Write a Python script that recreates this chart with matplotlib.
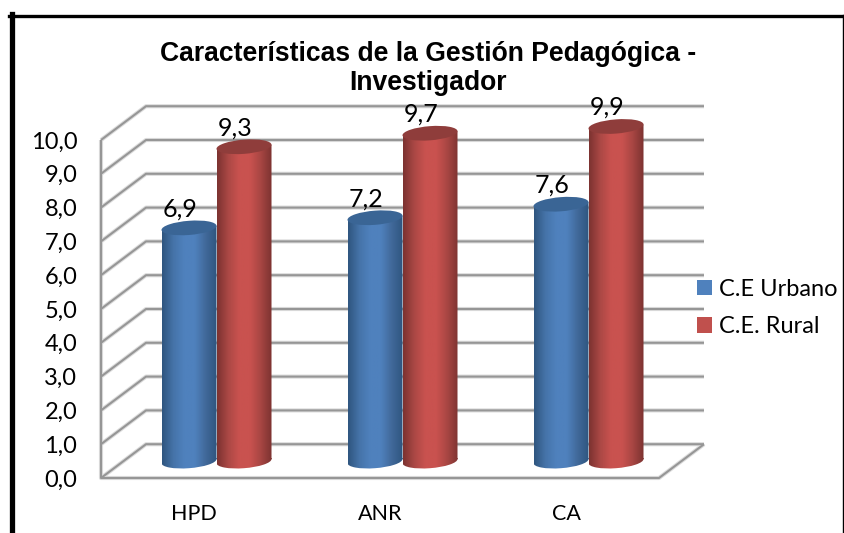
import numpy as np
import matplotlib
matplotlib.use('Agg')
import matplotlib.pyplot as plt
from matplotlib.colors import LinearSegmentedColormap
from matplotlib.patches import Patch, PathPatch
from matplotlib.path import Path
from matplotlib.transforms import Affine2D

categories = ['HPD', 'ANR', 'CA']
urbano = [6.9, 7.2, 7.6]
rural = [9.3, 9.7, 9.9]
series_names = ['C.E Urbano', 'C.E. Rural']
y_ticks = [0, 1, 2, 3, 4, 5, 6, 7, 8, 9, 10]

W, H = 844, 533
DEPTH_X = 45 / 186
DEPTH_Y = 1.0
BAR_W = 55 / 186
ELL_H = 0.42
TILT = 0.06

plt.rcParams['font.family'] = ['Lato', 'DejaVu Sans']

BLUE_STOPS = ['#2f5680', '#4573a8', '#4f81bd', '#4f81bd', '#41699a', '#2f5680']
RED_STOPS = ['#7d3331', '#ab4845', '#c9524f', '#c9524f', '#a84643', '#7d3331']
BLUE_TOP = '#3a6595'
RED_TOP = '#8f3d3b'


def tilted_ellipse(x_center, y_center):
    matrix = [[BAR_W / 2, 0, x_center], [TILT, ELL_H / 2, y_center], [0, 0, 1]]
    return Path.unit_circle().transformed(Affine2D(matrix))


def cylinder(ax, x_center, value, stops, top_color, zorder):
    x0 = x_center - BAR_W / 2
    x1 = x_center + BAR_W / 2
    base = DEPTH_Y / 2
    top = base + value
    cmap = LinearSegmentedColormap.from_list('cyl', stops)
    side = Path([(x0, base - TILT), (x1, base + TILT), (x1, top + TILT), (x0, top - TILT), (x0, base - TILT)],
                closed=True)
    body = Path.make_compound_path(tilted_ellipse(x_center, base), side)
    clip = PathPatch(body, transform=ax.transData, fc='none', ec='none')
    ax.add_patch(clip)
    im = ax.imshow(np.linspace(0, 1, 64).reshape(1, -1), cmap=cmap, aspect='auto',
                   extent=(x0, x1, base - ELL_H, top + ELL_H), zorder=zorder)
    im.set_clip_path(clip)
    im.set_clip_box(ax.figure.bbox)
    ax.add_patch(PathPatch(tilted_ellipse(x_center, top), fc=top_color, ec='none', zorder=zorder + 0.1, clip_on=False))


fig = plt.figure(figsize=(W / 100, H / 100), dpi=100)
ax = fig.add_axes([101 / W, (H - 478) / H, 558 / W, 338 / H])

# frame of the picture
fig.add_artist(plt.Line2D([11.5 / W, 11.5 / W], [0, (H - 14) / H], color='black', lw=3.8))
fig.add_artist(plt.Line2D([9 / W, 843 / W], [(H - 15.5) / H, (H - 15.5) / H], color='black', lw=2.4))
fig.add_artist(plt.Line2D([842.8 / W, 842.8 / W], [0, (H - 15) / H], color='black', lw=1.0))

# walls and floor
grid_kw = dict(color='#969696', lw=1.5, solid_capstyle='butt', clip_on=False, zorder=1)
shadow_kw = dict(color='#dcdcdc', lw=3.0, solid_capstyle='butt', clip_on=False, zorder=0.5)
for tick in y_ticks:
    xs = [-0.5, -0.5 + DEPTH_X, 2.5 + DEPTH_X]
    ys = [tick, tick + DEPTH_Y, tick + DEPTH_Y]
    ax.plot(xs, ys, **shadow_kw)
    ax.plot(xs, ys, **grid_kw)
for kw in (shadow_kw, grid_kw):
    ax.plot([-0.5, -0.5, 2.5, 2.5 + DEPTH_X], [10, 0, 0, DEPTH_Y], **kw)

for i in range(len(categories)):
    center = i + DEPTH_X / 2
    cylinder(ax, center - BAR_W / 2, urbano[i], BLUE_STOPS, BLUE_TOP, 3 + i)
    cylinder(ax, center + BAR_W / 2, rural[i], RED_STOPS, RED_TOP, 3.5 + i)
    for x, v in ((center - BAR_W / 2, urbano[i]), (center + BAR_W / 2, rural[i])):
        ax.text(x - 9 / 186, v + DEPTH_Y / 2 + 0.56, f'{v:.1f}'.replace('.', ','), ha='center', va='center',
                fontsize=18, color='black', zorder=10)

ax.set_xlim(-0.5, 2.5)
ax.set_ylim(0, 10)
ax.set_xticks(range(len(categories)))
ax.set_xticklabels(categories)
ax.set_yticks(y_ticks)
ax.set_yticklabels([f'{t:.1f}'.replace('.', ',') for t in y_ticks])
ax.tick_params(axis='y', length=0, pad=17, labelsize=17)
ax.tick_params(axis='x', length=0, pad=19, labelsize=15.5)
for spine in ax.spines.values():
    spine.set_visible(False)
ax.patch.set_visible(False)

fig.text(428 / W, (H - 68.5) / H, 'Características de la Gestión Pedagógica -\nInvestigador', ha='center',
         va='center', fontsize=19.1, fontweight='bold', family='Liberation Sans', linespacing=1.18)

handles = [Patch(fc='#4f81bd', ec='none', label=series_names[0]),
           Patch(fc='#c0504d', ec='none', label=series_names[1])]
fig.legend(handles=handles, loc='center left', bbox_to_anchor=(690 / W, (H - 308) / H), frameon=False,
           fontsize=17, handlelength=0.64, handleheight=0.64, handletextpad=0.3, labelspacing=0.68,
           borderpad=0.3, borderaxespad=0)

fig.savefig('out.png', dpi=100)
